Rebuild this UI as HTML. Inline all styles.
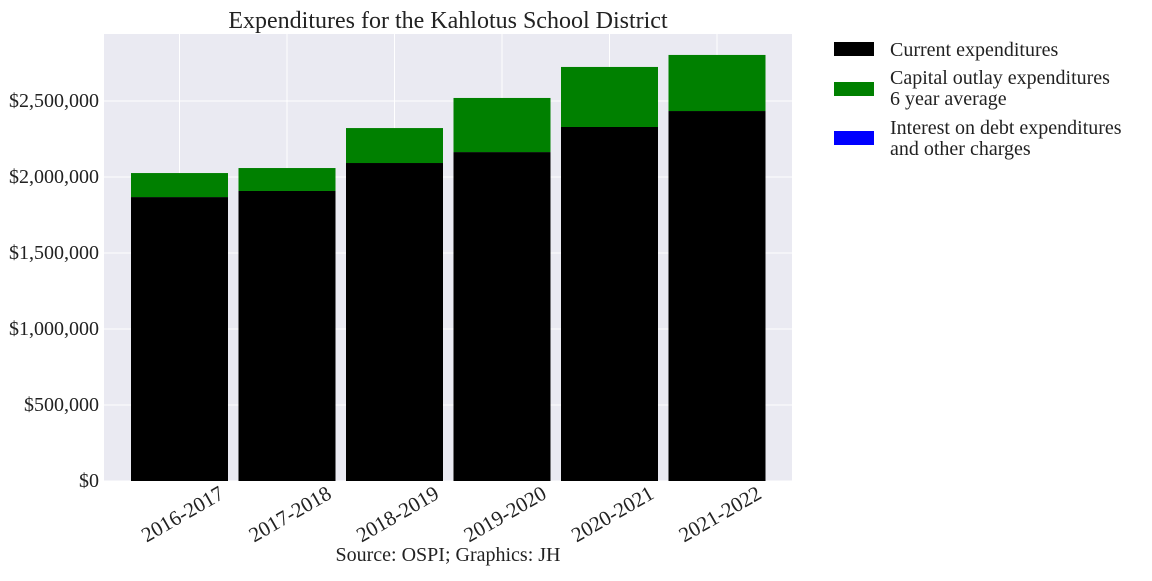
<!DOCTYPE html>
<html><head><meta charset="utf-8"><style>
body{margin:0;background:#fff;}
svg text{font-family:"Liberation Serif",serif;fill:#222;}
</style></head><body>
<svg id="chart" width="1152" height="576" xmlns="http://www.w3.org/2000/svg">
<rect x="104" y="34" width="688" height="447" fill="#eaeaf2"/>
<g id="grid"></g><g id="bars"></g><g id="axes"></g>
<text x="448" y="28" font-size="24" text-anchor="middle">Expenditures for the Kahlotus School District</text>
<text x="448" y="561" font-size="20" text-anchor="middle">Source: OSPI; Graphics: JH</text>
<g>
<rect x="834" y="42" width="40" height="14" fill="#000"/>
<text x="890" y="56" font-size="20">Current expenditures</text>
<rect x="834" y="82" width="40" height="14" fill="#008000"/>
<text x="890" y="84" font-size="20">Capital outlay expenditures</text>
<text x="890" y="105" font-size="20">6 year average</text>
<rect x="834" y="131" width="40" height="14" fill="#0000ff"/>
<text x="890" y="134" font-size="20">Interest on debt expenditures</text>
<text x="890" y="155" font-size="20">and other charges</text>
</g>
</svg>
<script>
const categories=["2016-2017","2017-2018","2018-2019","2019-2020","2020-2021","2021-2022"];
const currentValues=[1868000,1908000,2092000,2164000,2329000,2434000];
const capitalValues=[158000,151000,230000,356000,395000,369000];
const interestValues=[0,0,0,0,0,0];
const yTicks=[0,500000,1000000,1500000,2000000,2500000];
const yTickLabels=["$0","$500,000","$1,000,000","$1,500,000","$2,000,000","$2,500,000"];
const NS="http://www.w3.org/2000/svg";
const y=v=>481-v*76/500000;
const x=i=>179.5+107.5*i;
const bw=97;
function mk(tag,attrs,parent){const e=document.createElementNS(NS,tag);for(const k in attrs)e.setAttribute(k,attrs[k]);parent.appendChild(e);return e;}
const grid=document.getElementById('grid'),bars=document.getElementById('bars'),axes=document.getElementById('axes');
yTicks.forEach((t,i)=>{
  const l=mk('line',{x1:104,x2:792,y1:y(t),y2:y(t),stroke:'#fff','stroke-width':1},grid);
  
  
  const tx=mk('text',{x:99,y:y(t)+6,'font-size':20,'text-anchor':'end'},axes);
  tx.textContent=yTickLabels[i];
  
  
});
categories.forEach((c,i)=>{
  const l=mk('line',{x1:x(i),x2:x(i),y1:34,y2:481,stroke:'#fff','stroke-width':1},grid);
  
  
  const b1=mk('rect',{x:x(i)-bw/2,y:y(currentValues[i]),width:bw,height:481-y(currentValues[i]),fill:'#000'},bars);
  
  
  const top2=currentValues[i]+capitalValues[i];
  const b2=mk('rect',{x:x(i)-bw/2,y:y(top2),width:bw,height:y(currentValues[i])-y(top2),fill:'#008000'},bars);
  
  
  const top3=top2+interestValues[i];
  const b3=mk('rect',{x:x(i)-bw/2,y:y(top3),width:bw,height:y(top2)-y(top3),fill:'#0000ff'},bars);
  
  
  const cx=x(i)+3,cy=514;
  const t=mk('text',{x:cx,y:cy+7,'font-size':21,'text-anchor':'middle',transform:`rotate(-30 ${cx} ${cy})`},axes);
  t.textContent=c;
  
  
});
</script>
</body></html>
